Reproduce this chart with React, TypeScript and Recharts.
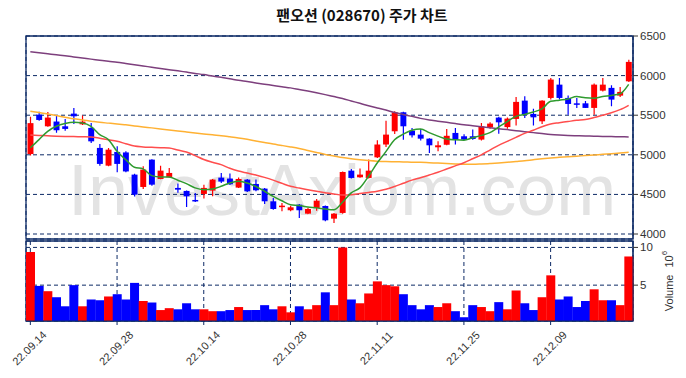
import React from 'react';
import { ComposedChart, BarChart, Bar, Line, XAxis, YAxis, CartesianGrid, ReferenceArea, Cell } from 'recharts';

const dates = ["22.09.14","22.09.15","22.09.16","22.09.19","22.09.20","22.09.21","22.09.22","22.09.23","22.09.26","22.09.27","22.09.28","22.09.29","22.09.30","22.10.04","22.10.05","22.10.06","22.10.07","22.10.11","22.10.12","22.10.13","22.10.14","22.10.17","22.10.18","22.10.19","22.10.20","22.10.21","22.10.24","22.10.25","22.10.26","22.10.27","22.10.28","22.10.31","22.11.01","22.11.02","22.11.03","22.11.04","22.11.07","22.11.08","22.11.09","22.11.10","22.11.11","22.11.14","22.11.15","22.11.16","22.11.17","22.11.18","22.11.21","22.11.22","22.11.23","22.11.24","22.11.25","22.11.28","22.11.29","22.11.30","22.12.01","22.12.02","22.12.05","22.12.06","22.12.07","22.12.08","22.12.09","22.12.12","22.12.13","22.12.14","22.12.15","22.12.16","22.12.19","22.12.20","22.12.21","22.12.22"];

const tickDates = ["22.09.14","22.09.28","22.10.14","22.10.28","22.11.11","22.11.25","22.12.09"];
const priceTicks = [4000, 4500, 5000, 5500, 6000, 6500];
const volumeTicks = [5, 10];

const opens = [5010,5507,5360,5420,5360,5520,5385,5340,5087,4863, 5036,5030,4750,4594,4939,4695,4716,4582,4544,4430, 4506,4548,4712,4700,4586,4687,4632,4573,4413,4341, 4300,4371,4257,4329,4354,4194,4266,4800,4716,4708, 4968,5130,5297,5537,5305,5255,5204,5095,5127,5276, 5234,5234,5192,5347,5470,5350,5453,5684,5516,5423, 5718,5886,5718,5650,5650,5592,5810,5845,5747,5928];
const highs = [5480,5545,5540,5495,5453,5590,5495,5403,5137,5087, 5107,5044,4760,4855,4945,4863,4834,4637,4550,4518, 4623,4695,4771,4763,4712,4695,4687,4580,4455,4392, 4358,4380,4330,4443,4360,4265,4790,4822,4826,4940, 5183,5430,5550,5545,5340,5327,5210,5170,5327,5340, 5260,5318,5400,5410,5480,5470,5730,5740,5583,5690, 5970,5970,5750,5718,5680,5900,5970,5877,5857,6200];
const lows = [4990,5430,5355,5280,5305,5390,5377,5150,4863,4855, 4780,4780,4475,4569,4610,4690,4710,4520,4340,4405, 4447,4476,4645,4620,4582,4530,4539,4380,4305,4286, 4286,4203,4250,4295,4160,4140,4257,4700,4710,4700, 4960,5100,5263,5190,5220,5180,5024,5044,5120,5130, 5183,5190,5180,5330,5267,5330,5370,5465,5370,5390, 5697,5697,5507,5592,5590,5507,5800,5612,5730,5920];
const closes = [5400,5440,5470,5310,5327,5486,5419,5170,4885,5065, 4885,4790,4497,4813,4623,4800,4771,4560,4476,4413, 4582,4687,4662,4628,4695,4539,4552,4413,4316,4358, 4337,4300,4316,4421,4173,4257,4783,4708,4750,4800, 5130,5255,5537,5360,5246,5204,5120,5120,5240,5192, 5192,5200,5360,5394,5410,5457,5668,5508,5473,5684, 5950,5718,5642,5635,5592,5886,5886,5697,5794,6173];

const volumes = [9.4,4.9,4.2,3.4,2.2,5.0,2.2,3.1,3.0,3.5, 3.8,3.1,5.3,2.9,2.7,1.7,1.95,1.8,2.6,1.8, 1.8,1.55,1.55,1.7,2.1,1.7,1.7,2.35,1.8,2.2, 1.4,2.2,1.8,2.35,4.05,2.35,10.0,3.1,2.6,3.9, 5.5,5.0,4.85,3.8,2.35,1.8,2.35,2.1,2.6,1.55, 0.75,2.35,2.1,1.55,2.75,1.8,4.3,2.6,1.7,3.4, 6.3,3.1,3.5,2.1,2.9,4.45,3.0,3.0,2.35,8.8];

const ma5 = [5090,5192,5297,5360,5394,5410,5403,5360,5255,5192, 5044,4939,4842,4822,4737,4720,4720,4678,4636,4582, 4560,4569,4602,4645,4665,4645,4600,4540,4476,4420, 4370,4360,4340,4330,4316,4307,4400,4520,4582,4729, 4897,5040,5190,5260,5310,5327,5280,5236,5200,5190, 5185,5215,5245,5280,5350,5420,5485,5510,5540,5580, 5675,5690,5705,5735,5720,5715,5735,5750,5770,5890];
const ma20 = [5250,5245,5240,5235,5232,5230,5228,5226,5210,5190, 5170,5140,5110,5100,5095,5090,5087,5060,5035,4990, 4940,4905,4876,4830,4795,4770,4745,4715,4680,4640, 4602,4580,4560,4540,4522,4505,4492,4495,4510,4525, 4540,4565,4600,4640,4680,4710,4745,4780,4820,4860, 4900,4950,5000,5060,5120,5170,5220,5270,5310,5355, 5390,5405,5420,5435,5445,5470,5500,5530,5570,5625];
const ma60 = [5550,5535,5515,5495,5475,5455,5440,5425,5410,5400, 5390,5378,5365,5352,5340,5327,5313,5300,5288,5276, 5264,5252,5242,5228,5213,5195,5175,5155,5135,5118, 5100,5080,5055,5030,5005,4985,4965,4950,4938,4928, 4920,4915,4912,4910,4907,4905,4900,4895,4890,4885, 4880,4880,4884,4890,4897,4905,4915,4925,4938,4950, 4960,4968,4975,4983,4990,4998,5006,5014,5022,5031];
const ma120 = [6300,6288,6275,6262,6250,6236,6222,6208,6194,6180, 6168,6153,6138,6122,6106,6090,6075,6060,6044,6028, 6013,5995,5978,5960,5940,5925,5908,5892,5876,5860, 5845,5825,5805,5783,5760,5735,5710,5680,5650,5620, 5592,5565,5535,5510,5485,5460,5440,5425,5410,5395, 5380,5368,5355,5343,5330,5318,5305,5292,5280,5268, 5257,5250,5245,5241,5238,5235,5232,5230,5228,5226];

const data = dates.map((d, i) => ({
  date: d,
  open: opens[i],
  high: highs[i],
  low: lows[i],
  close: closes[i],
  range: [lows[i], highs[i]],
  volume: volumes[i],
  ma5: ma5[i],
  ma20: ma20[i],
  ma60: ma60[i],
  ma120: ma120[i],
}));

const UP = '#ff0000';
const DOWN = '#0000ff';
const NAVY = '#0d2a66';
const TEXT = '#333333';
const FONT = '"Liberation Sans", Arial, sans-serif';

const Candle = (props: any) => {
  const { x, y, width, height, payload } = props;
  if (!payload) return null;
  const { open, close, high, low } = payload;
  const span = high - low || 1;
  const ratio = height / span;
  const py = (v: number) => y + (high - v) * ratio;
  const color = close >= open ? UP : DOWN;
  const cx = x + width / 2;
  const bw = width * 0.66;
  const top = py(Math.max(open, close));
  const bot = py(Math.min(open, close));
  return (
    <g>
      <line x1={cx} x2={cx} y1={y} y2={y + height} stroke={color} strokeWidth={1.2} />
      <rect x={cx - bw / 2} y={top} width={bw} height={Math.max(bot - top, 1.5)} fill={color} />
    </g>
  );
};

const DateTick = (props: any) => {
  const { x, y, payload } = props;
  const cx = x - 1;
  const cy = y + 21;
  return (
    <text x={cx} y={cy} textAnchor="middle" dominantBaseline="central" transform={`rotate(-45, ${cx}, ${cy})`} fontSize={11} fill={TEXT} fontFamily={FONT}>
      {payload.value}
    </text>
  );
};

const VolLabel = (props: any) => {
  const vb = props.viewBox || { x: 633, y: 1, width: 53, height: 80 };
  const cx = vb.x + 36;
  const cy = vb.y + vb.height / 2;
  return (
    <text x={cx} y={cy} textAnchor="middle" dominantBaseline="central" transform={`rotate(-90, ${cx}, ${cy})`} fontSize={11} fill={TEXT} fontFamily={FONT}>
      <tspan>Volume</tspan>
      <tspan dx={7}>10</tspan>
      <tspan dy={-5} fontSize={8}>6</tspan>
    </text>
  );
};

export default function App() {
  return (
    <div style={{ position: 'absolute', left: 0, top: 0, width: 686, height: 378, background: '#ffffff', overflow: 'hidden' }}>
      <svg width={686} height={378} style={{ position: 'absolute', left: 0, top: 0 }}>
        <text x={362} y={21} textAnchor="middle" fontSize={15} fontWeight="bold" fill="#111" fontFamily='"Noto Sans CJK KR", "Noto Sans", sans-serif'>
          팬오션 (028670) 주가 차트
        </text>
        <text x={68} y={215} fontSize={72} fill="#e3e3e3" fontFamily={FONT}>InvestAxiom.com</text>
      </svg>
      <div style={{ position: 'absolute', left: 0, top: 0 }}>
        <ComposedChart width={686} height={240} data={data} margin={{ top: 36, right: 0, bottom: 1, left: 26 }} barCategoryGap={0}>
          <CartesianGrid stroke={NAVY} strokeDasharray="4 3" strokeWidth={1} />
          <XAxis dataKey="date" ticks={tickDates} interval={0} height={0} tick={false} axisLine={false} tickLine={false} />
          <YAxis orientation="right" width={53} domain={[3937, 6500]} ticks={priceTicks} interval={0} allowDataOverflow
            tickSize={5} tick={{ fontSize: 11.5, fill: TEXT, fontFamily: FONT }} axisLine={{ stroke: NAVY }} tickLine={{ stroke: TEXT }} />
          <ReferenceArea y1={3937} y2={6500} fill="none" stroke={NAVY} strokeWidth={1.3} ifOverflow="visible" />
          <Line type="monotone" dataKey="ma120" stroke="#7d3f7d" strokeWidth={1.5} dot={false} isAnimationActive={false} />
          <Line type="monotone" dataKey="ma60" stroke="#ffb133" strokeWidth={1.5} dot={false} isAnimationActive={false} />
          <Line type="monotone" dataKey="ma20" stroke="#ff4d4d" strokeWidth={1.5} dot={false} isAnimationActive={false} />
          <Line type="monotone" dataKey="ma5" stroke="#2f9b2f" strokeWidth={1.5} dot={false} isAnimationActive={false} />
          <Bar dataKey="range" shape={<Candle />} isAnimationActive={false} />
        </ComposedChart>
      </div>
      <div style={{ position: 'absolute', left: 0, top: 240 }}>
        <BarChart width={686} height={138} data={data} margin={{ top: 1, right: 0, bottom: 0, left: 26 }} barCategoryGap={0}>
          <CartesianGrid stroke={NAVY} strokeDasharray="4 3" strokeWidth={1} />
          <XAxis dataKey="date" ticks={tickDates} interval={0} height={57} tickSize={4} tick={<DateTick />} axisLine={{ stroke: NAVY }} tickLine={{ stroke: NAVY }} />
          <YAxis orientation="right" width={53} domain={[0.25, 10.85]} ticks={volumeTicks} interval={0} allowDataOverflow
            tickSize={5} tick={{ fontSize: 11.5, fill: TEXT, fontFamily: FONT }} axisLine={{ stroke: NAVY }} tickLine={{ stroke: TEXT }}
            label={(p: any) => <VolLabel {...p} />} />
          <ReferenceArea y1={0.25} y2={10.85} fill="none" stroke={NAVY} strokeWidth={1.3} ifOverflow="visible" />
          <Bar dataKey="volume" isAnimationActive={false}>
            {data.map((d, i) => (
              <Cell key={i} fill={d.close >= d.open ? UP : DOWN} />
            ))}
          </Bar>
        </BarChart>
      </div>
    </div>
  );
}
